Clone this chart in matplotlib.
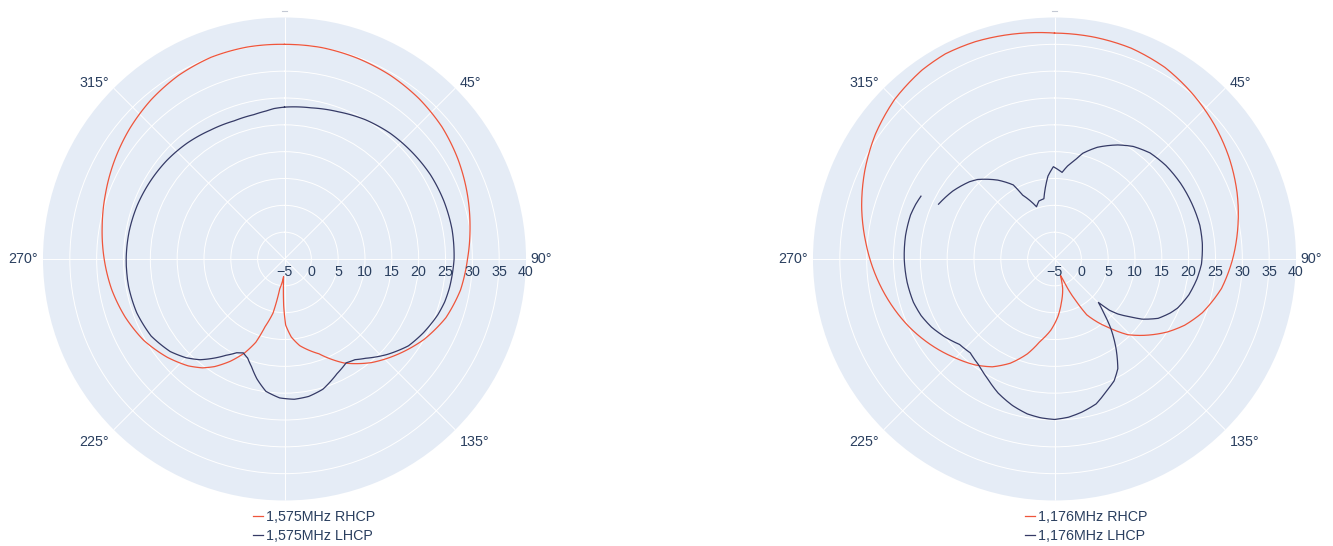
import numpy as np
import matplotlib
matplotlib.use('Agg')
import matplotlib.pyplot as plt
from matplotlib.lines import Line2D
from matplotlib.transforms import offset_copy

plt.rcParams['font.family'] = ['Liberation Sans', 'DejaVu Sans']

# ---------------- data (angle in degrees, gain in dB) ----------------
l_rhcp_theta = [0, 10, 20, 30, 40, 50, 60, 70, 80, 90, 100, 110, 120, 130, 140, 150, 160,
                170, 175, 179, 181, 183, 189, 192, 196, 199, 203, 208, 213, 217, 222, 230, 240,
                250, 260, 270, 280, 290, 300, 310, 320, 330, 340, 350, 360]
l_rhcp_r = [35.0, 35.0, 34.8, 34.5, 34.0, 33.3, 32.3, 31.2, 30.1, 29.1, 28.3, 27.0, 25.0, 22.6,
            20.2, 17.4, 13.8, 11.4, 9.6, 7.3, 3.7, -1.7, 0.6, 5.3, 8.1, 11.4, 14.0, 16.6, 18.9,
            20.4, 21.8, 23.5, 25.3, 26.6, 27.7, 28.6, 29.5, 30.5, 31.6, 32.7, 33.7, 34.5, 35.0,
            35.1, 35.0]

l_lhcp_theta = [0, 10, 20, 30, 40, 50, 60, 70, 80, 90, 100, 105, 110, 118, 125, 133, 140.7, 145,
                149.3, 155.4, 163.6, 170, 176, 182, 188, 193, 197, 200.4, 203.7, 207, 211.3, 215,
                220, 225, 231, 240, 250, 260, 270, 280, 290, 300, 310, 320, 330, 340, 348, 353,
                356, 360]
l_lhcp_r = [23.3, 23.6, 24.2, 25.0, 25.6, 26.0, 26.4, 26.6, 26.7, 26.6, 26.2, 25.9, 25.4, 24.3,
            23.2, 21.1, 18.9, 17.9, 17.5, 18.5, 20.3, 21.0, 21.2, 20.9, 19.9, 17.9, 16.0, 14.7,
            14.1, 14.6, 16.0, 17.5, 19.5, 21.0, 22.4, 23.7, 24.3, 24.5, 24.5, 24.4, 24.2, 23.9,
            23.6, 23.2, 22.7, 22.4, 22.5, 22.8, 23.1, 23.3]

r_rhcp_theta = [0, 10, 20, 30, 40, 50, 60, 70, 80, 90, 100, 110, 117, 123, 131, 136, 141, 146,
                150, 152.5, 155.5, 157.5, 160, 164.5, 171, 176.5, 183, 190, 196, 203, 210, 217,
                225, 235, 245, 255, 265, 275, 285, 295, 305, 315, 325, 332, 340, 350, 360]
r_rhcp_r = [37.1, 37.0, 36.8, 36.2, 35.1, 33.9, 32.6, 31.2, 29.7, 28.2, 26.6, 24.3, 22.2, 20.0,
            16.7, 14.6, 11.7, 9.1, 7.0, 4.2, 1.4, -0.8, -1.8, 0.7, 3.2, 5.7, 8.3, 10.6, 13.4,
            16.1, 18.2, 19.7, 21.1, 23.0, 24.9, 26.7, 28.5, 30.3, 32.2, 34.0, 35.7, 37.1, 38.0,
            38.3, 38.1, 37.6, 37.1]

r_lhcp_theta = [295.3, 303.7, 312.3, 316, 324.3, 330.9, 333.5, 341, 345, 350, 355.5, 359.3, 5, 8,
                11.7, 15, 21, 29, 35, 42, 50, 59, 68, 77, 84, 92, 98, 105, 111.7, 115, 119.8,
                124.4, 127, 131, 133, 134.7, 137.6, 141, 145.3, 150, 154, 158, 164, 170, 175,
                180, 185, 190, 196, 202.8, 209, 215.4, 221.9, 228, 234.3, 241, 247, 253, 261,
                270, 279, 287, 291.5, 295.2]
r_lhcp_r = [18.9, 17.8, 16.4, 15.6, 13.1, 10.8, 8.3, 5.3, 6.2, 6.4, 10.5, 12.2, 11.2, 12.5, 13.8,
            15.4, 17.3, 19.3, 20.6, 21.6, 22.1, 22.4, 22.6, 22.8, 22.7, 22.4, 21.8, 20.9, 19.7,
            18.8, 17.25, 14.85, 13.0, 10.6, 9.0, 6.5, 8.6, 11.7, 15.1, 18.6, 20.3, 21.3, 23.1,
            24.0, 24.6, 24.9, 24.7, 24.3, 23.4, 22.1, 20.6, 19.3, 18.5, 18.8, 20.0, 21.2, 22.0,
            22.5, 22.8, 23.0, 23.1, 23.05, 22.8, 22.5]

legend_left = ['1,575MHz RHCP', '1,575MHz LHCP']
legend_right = ['1,176MHz RHCP', '1,176MHz LHCP']

radial_ticks = [-5, 0, 5, 10, 15, 20, 25, 30, 35, 40]
radial_labels = ['\u22125', '0', '5', '10', '15', '20', '25', '30', '35', '40']
angular_grid = [0, 45, 90, 135, 180, 225, 270, 315]
angular_ticks = [45, 90, 135, 225, 270, 315]
angular_labels = ['45°', '90°', '135°', '225°', '270°', '315°']

# ---------------- style ----------------
W, H = 1333, 546
BG = '#E5ECF6'
TXT = '#2a3f5f'
RED = '#EF553B'
DARK = '#353a66'
FS = 10.3
LW = 0.9

fig = plt.figure(figsize=(W / 100, H / 100), dpi=100)

# angular label placement (axes coords) and alignment
ang_pos = {45: (0.8634, 0.8652, 'left'), 90: (1.0083, 0.5, 'left'), 135: (0.8634, 0.1201, 'left'),
           225: (0.1366, 0.1201, 'right'), 270: (-0.0104, 0.5, 'right'), 315: (0.1366, 0.8652, 'right')}


def make_panel(cx, th_a, r_a, th_b, r_b, labels, leg_x):
    R = 241.5
    cy = 259
    ax = fig.add_axes([(cx - R) / W, (H - cy - R) / H, 2 * R / W, 2 * R / H], projection='polar')
    ax.set_theta_zero_location('N')
    ax.set_theta_direction(-1)
    ax.set_facecolor(BG)
    ax.set_ylim(-5, 40)
    ax.set_yticks(radial_ticks[1:-1])
    ax.set_yticklabels([])
    ax.set_xticks(np.deg2rad(angular_grid))
    ax.set_xticklabels([])
    ax.grid(True, color='white', lw=0.7)
    ax.spines['polar'].set_visible(False)
    ax.tick_params(length=0)

    la, = ax.plot(np.unwrap(np.deg2rad(th_a)), r_a, color=RED, lw=LW)
    lb, = ax.plot(np.unwrap(np.deg2rad(th_b)), r_b, color=DARK, lw=LW)
    # draw each segment along the polar coordinate system (spiral arcs) for smooth curves
    for ln in (la, lb):
        try:
            ln.get_path()._interpolation_steps = 16
        except Exception:
            pass

    tr = offset_copy(ax.transData, fig=fig, x=0, y=-13, units='dots')
    for v, s in zip(radial_ticks, radial_labels):
        ax.text(np.deg2rad(90), v, s, transform=tr, ha='center', va='center',
                fontsize=FS, color=TXT, clip_on=False)
    for a, s in zip(angular_ticks, angular_labels):
        x, y, ha = ang_pos[a]
        ax.text(x, y, s, transform=ax.transAxes, ha=ha, va='center', fontsize=FS, color=TXT)

    # faint tick mark above the 0° direction
    fig.add_artist(Line2D([(cx - 3) / W, (cx + 2) / W], [1 - 11 / H, 1 - 11 / H],
                          transform=fig.transFigure, color='#c4c9d4', lw=0.8))

    ax.legend([la, lb], labels, loc='upper left', bbox_to_anchor=(leg_x / W, 1 - 510 / H),
              bbox_transform=fig.transFigure, frameon=False, borderpad=0, borderaxespad=0,
              handlelength=0.7, handletextpad=0.2, labelspacing=0.35, fontsize=FS,
              labelcolor=TXT)
    return ax


make_panel(284.5, l_rhcp_theta, l_rhcp_r, l_lhcp_theta, l_lhcp_r, legend_left, 253)
make_panel(1054.5, r_rhcp_theta, r_rhcp_r, r_lhcp_theta, r_lhcp_r, legend_right, 1025)

fig.savefig('out.png', dpi=100, facecolor='white')
